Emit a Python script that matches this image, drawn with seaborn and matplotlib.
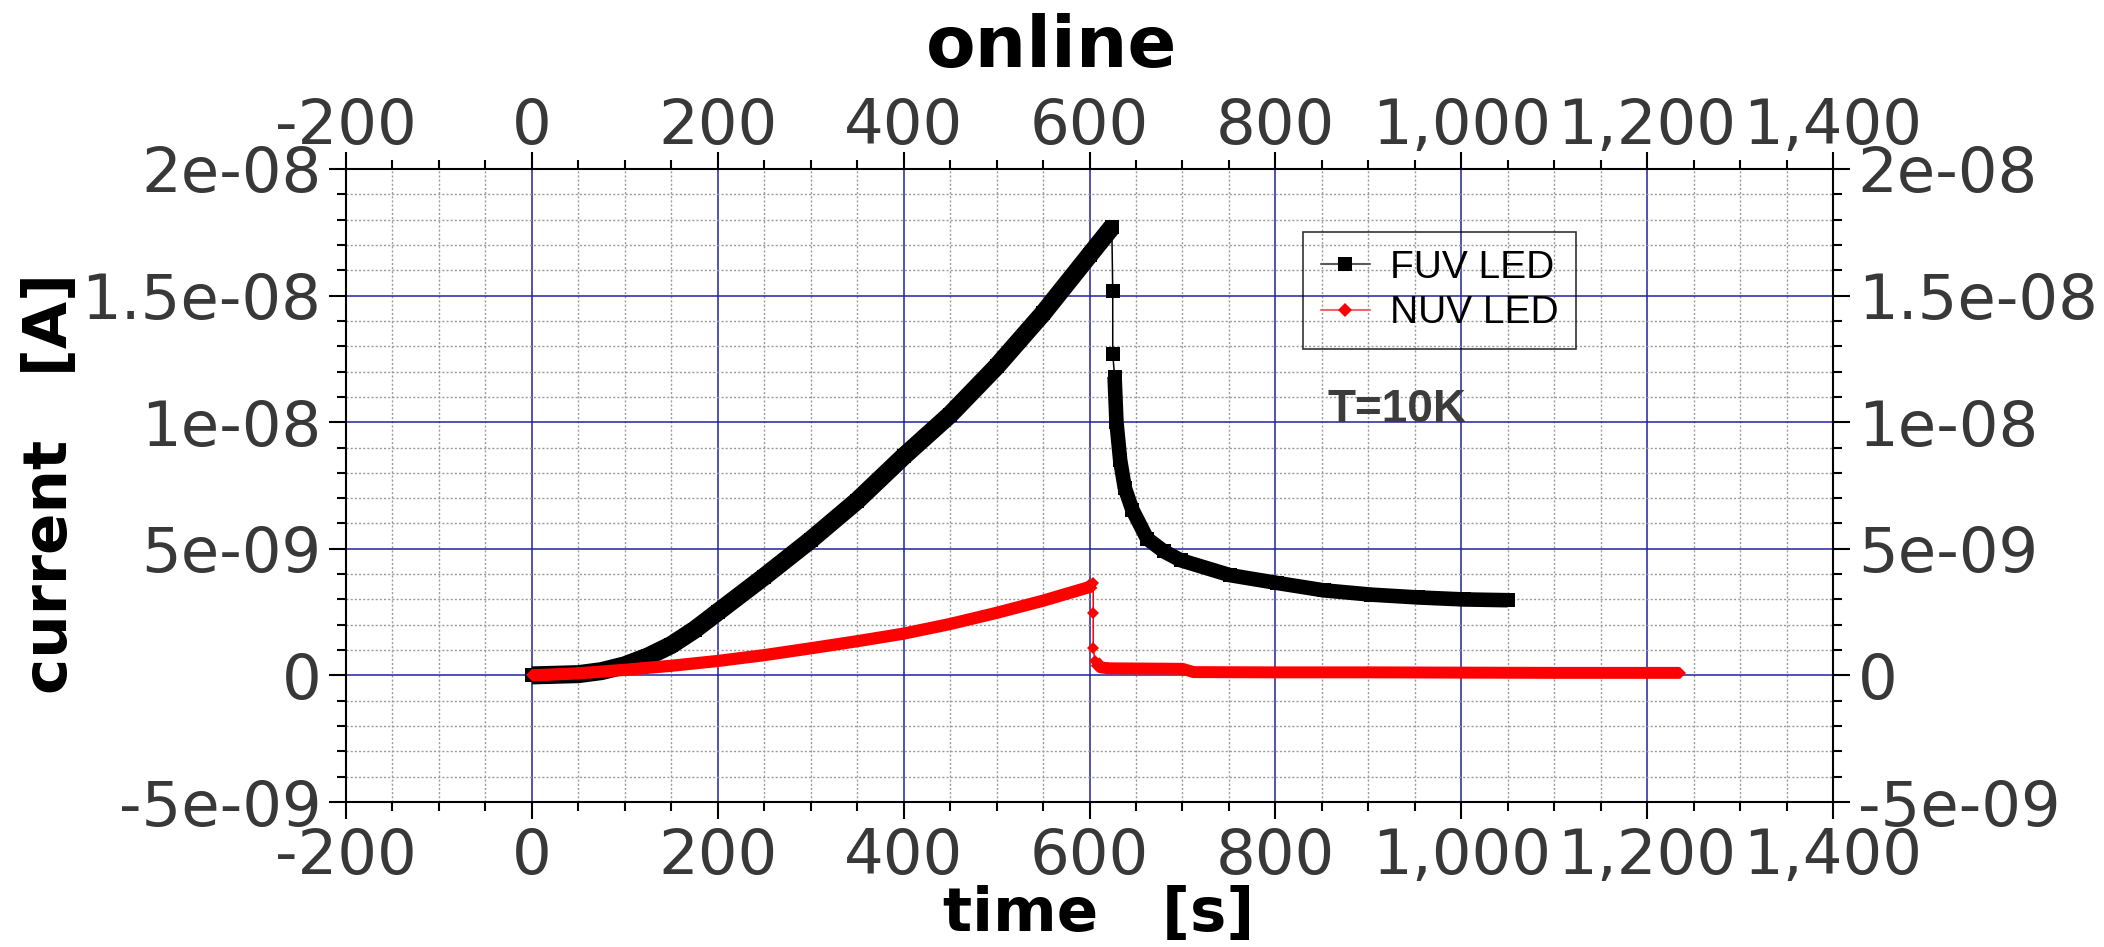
import numpy as np
import pandas as pd
import matplotlib
matplotlib.use("Agg")
import matplotlib.pyplot as plt
import seaborn as sns
from matplotlib.ticker import MultipleLocator, FuncFormatter
from matplotlib.lines import Line2D
from matplotlib.font_manager import FontProperties

# FUV LED photocurrent (time in s, current in nA)
fuv_time = [0, 50, 75, 100, 125, 150, 175, 200, 250, 300, 350, 400, 450, 500, 550, 600, 624,
            625, 625,
            627, 629, 633, 638, 646, 662, 680, 698, 751, 802, 852, 903, 953, 1003, 1050]
fuv_current_nA = [0.0, 0.05, 0.17, 0.4, 0.75, 1.2, 1.8, 2.5, 3.9, 5.35, 6.9, 8.65, 10.3, 12.2,
                  14.3, 16.6, 17.7,
                  15.2, 12.7,
                  11.8, 10.0, 8.5, 7.4, 6.55, 5.4, 4.9, 4.55, 3.96, 3.65, 3.36, 3.19, 3.08, 3.0,
                  2.97]
fuv_segment = ["rise"] * 17 + ["drop"] * 2 + ["decay"] * 15

# NUV LED photocurrent (time in s, current in nA)
nuv_time = [0, 50, 100, 150, 200, 250, 300, 350, 400, 450, 500, 550, 600, 604,
            604, 604,
            606, 612, 620, 660, 700, 712, 800, 900, 1000, 1100, 1235]
nuv_current_nA = [0.0, 0.08, 0.22, 0.38, 0.57, 0.8, 1.07, 1.35, 1.65, 2.03, 2.47, 2.95, 3.49, 3.63,
                  2.48, 1.07,
                  0.55, 0.32, 0.28, 0.27, 0.26, 0.13, 0.12, 0.12, 0.11, 0.1, 0.1]
nuv_segment = ["rise"] * 14 + ["drop"] * 2 + ["decay"] * 11

series_labels = ["FUV LED", "NUV LED"]
title_text = "online"
x_label = "time   [s]"
y_label = "current   [A]"
note_text = "T=10K"


def to_frame(t, i_nA, seg):
    return pd.DataFrame({"time": t, "current": np.asarray(i_nA) * 1e-9, "segment": seg})


fuv = to_frame(fuv_time, fuv_current_nA, fuv_segment)
nuv = to_frame(nuv_time, nuv_current_nA, nuv_segment)

sns.set_theme(style="white")
plt.rcParams["font.family"] = ["DejaVu Sans"]

W, H = 2104, 947
fig = plt.figure(figsize=(W / 100, H / 100), dpi=100)
left, right, top, bottom = 346, 1833, 169, 802
ax = fig.add_axes([left / W, 1 - bottom / H, (right - left) / W, (bottom - top) / H])


def draw_series(df, color, band_lw, marker, ms, z):
    # thick trace for the densely sampled stretches, one width per stretch
    for seg, lw in band_lw.items():
        part = df[df["segment"] == seg]
        sns.lineplot(data=part, x="time", y="current", estimator=None, sort=False,
                     color=color, linewidth=lw, solid_capstyle="butt",
                     solid_joinstyle="round", ax=ax, legend=False, zorder=z)
    # thin connecting line with the sample markers
    sns.lineplot(data=df, x="time", y="current", estimator=None, sort=False,
                 color=color, linewidth=1.1, marker=marker, markersize=ms,
                 markeredgewidth=0, ax=ax, legend=False, zorder=z + 0.1)


draw_series(fuv, "black", {"rise": 13.0, "decay": 10.5}, "s", 10, 3)
draw_series(nuv, "#ff0000", {"rise": 8.8, "decay": 8.6}, "D", 6.5, 4)

# axes ranges and ticks
ax.set_xlim(-200, 1400)
ax.set_ylim(-5e-9, 2e-8)
ax.xaxis.set_major_locator(MultipleLocator(200))
ax.xaxis.set_minor_locator(MultipleLocator(50))
ax.yaxis.set_major_locator(MultipleLocator(5e-9))
ax.yaxis.set_minor_locator(MultipleLocator(1e-9))
ax.xaxis.set_major_formatter(FuncFormatter(lambda v, p: f"{v:,.0f}"))
ax.yaxis.set_major_formatter(FuncFormatter(lambda v, p: f"{v:g}"))

ax.set_axisbelow(True)
ax.grid(which="major", color="#2222a0", linewidth=1.1)
ax.grid(which="minor", color="#9a9a9a", linewidth=1.0, linestyle=(0, (1.5, 1.5)))

for s in ax.spines.values():
    s.set_visible(True)
    s.set_color("black")
    s.set_linewidth(1.5)

ax.tick_params(which="both", direction="out", top=True, right=True, bottom=True, left=True,
               labeltop=True, labelright=True, labelbottom=True, labelleft=True,
               color="black", width=1.5)
ax.tick_params(which="major", length=12, labelsize=45, labelcolor="#383838")
ax.tick_params(which="minor", length=6.5)
ax.tick_params(axis="x", which="major", pad=5.8)
ax.tick_params(axis="y", which="major", pad=5.8)
for t in ax.xaxis.get_major_ticks():
    t.label2.set_va("baseline")

ax.set_xlabel(x_label, fontsize=44, fontweight="bold", color="black")
ax.xaxis.set_label_coords(0.5064, (bottom - 931) / (bottom - top))
ax.xaxis.label.set_va("baseline")
ax.set_ylabel(y_label, fontsize=44, fontweight="bold", color="black")
ax.yaxis.label.set_rotation_mode("anchor")
ax.yaxis.label.set_va("baseline")
ax.yaxis.set_label_coords((67 - left) / (right - left), 0.503)

fig.text(0.5, 1 - 67 / H, title_text, ha="center", va="baseline",
         fontsize=52, fontweight="bold", color="black")

ax.text(856, 1.0e-8, note_text, ha="left", va="baseline", fontfamily="Liberation Sans",
        fontweight="bold", fontsize=33, color="#3c3c3c", zorder=6)

handles = [
    Line2D([], [], color="#5a5a5a", linewidth=1.5, marker="s", markersize=10,
           markerfacecolor="black", markeredgewidth=0),
    Line2D([], [], color="#e86a6a", linewidth=1.5, marker="D", markersize=7.5,
           markerfacecolor="#ff0000", markeredgewidth=0),
]
leg = ax.legend(handles, series_labels, loc="upper left",
                bbox_to_anchor=((1303 - left) / (right - left), (bottom - 232) / (bottom - top)),
                borderaxespad=0, frameon=True, fancybox=False, edgecolor="black",
                facecolor="none", prop=FontProperties(family="Liberation Sans", size=28),
                labelcolor="black",
                handlelength=1.28, handletextpad=0.5, borderpad=0.45, labelspacing=0.25)
leg.get_frame().set_linewidth(1.2)
leg.set_zorder(7)

fig.savefig("out.png", dpi=100)
